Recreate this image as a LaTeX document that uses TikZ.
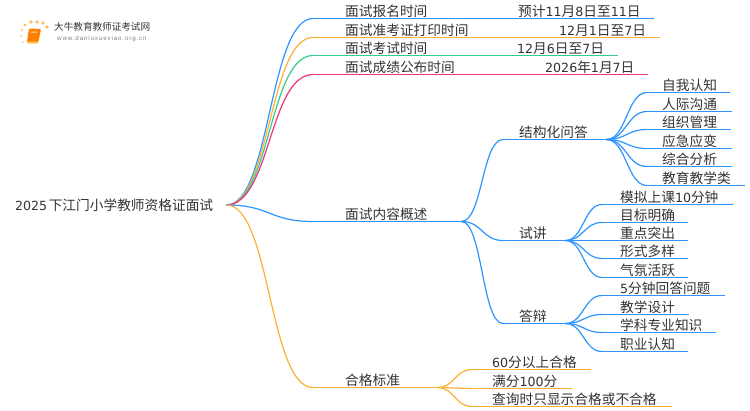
\documentclass[tikz,border=0pt]{standalone}
\usepackage{fontspec}
\setmainfont{Noto Sans CJK SC}
\newfontfamily\dgfont[Scale=0.92]{DejaVu Sans}
\newfontfamily\urlfont[LetterSpace=14]{Liberation Sans}
\newcommand{\dg}[1]{{\dgfont #1}}
\definecolor{bl}{HTML}{2E94FF}
\definecolor{og}{HTML}{FBB034}
\definecolor{gn}{HTML}{35CC8A}
\definecolor{pk}{HTML}{F5307F}
\definecolor{ink}{HTML}{333333}
\tikzset{
	every node/.style={font=\fontsize{13.7pt}{15pt}\selectfont,text=ink},
	item/.style 2 args={anchor=south west,inner sep=0pt,align=left,text height=13pt,text depth=1pt,minimum height=15pt,text width=#1pt,execute at begin node={\hspace*{#2pt}}},
	link/.style={line width=1.2pt,to path={.. controls +(#1,0) and +(-#1,0) .. (\tikztotarget)}},
	rule/.style={line width=1.6pt}
	}
\begin{document}
\begin{tikzpicture}[x=1pt,y=-1pt]
\useasboundingbox (0,0) rectangle (750,410);
% logo
\fill[og,opacity=.8] (25,25) circle (1.6) (31,22) circle (1.9) (37,22) circle (1.9) (43,23) circle (1.9) (47,27) circle (1.9) (22,30) circle (1.2) (21,36) circle (1) (23,42) circle (.8);
\fill[og!75!white,rounded corners=1pt] (26.5,41) -- (39,41) -- (38,43.5) -- (27,43.5) -- cycle;
\fill[orange,rounded corners=1pt] (29,28.5) -- (41,29) -- (38.5,41.5) -- (27,41.5) -- cycle;
\fill[og!50!white] (31,31.5) -- (37.5,31.5) -- (37.3,32.5) -- (30.8,32.5) -- cycle;
\node[font=\fontsize{9.6pt}{12pt}\selectfont,anchor=west,inner sep=0pt] (logoname) at (54,27) {大牛教育教师证考试网};
\node[font=\urlfont\fontsize{6.2pt}{7pt}\selectfont,text=gray,anchor=west,inner sep=0pt] (logourl) at (57,39) {www.daniuxuexiao.org.cn};
% root
\node[anchor=west,inner sep=0pt,text width=211pt,align=left] (root) at (15,205) {\dg{2025}\kern1.5pt 下江门小学教师资格证面试};
% first level
\node[item={192}{32}] (t1) at (313,18.5) {面试报名时间};
\node[item={149}{13}] (v1) at (505,18.5) {预计\dg{11}月\dg{8}日至\dg{11}日};
\node[item={232}{32}] (t2) at (313,37.5) {面试准考证打印时间};
\node[item={115}{14}] (v2) at (545,37.5) {\dg{12}月\dg{1}日至\dg{7}日};
\node[item={192}{32}] (t3) at (313,55.5) {面试考试时间};
\node[item={113}{12}] (v3) at (505,55.5) {\dg{12}月\dg{6}日至\dg{7}日};
\node[item={219}{32}] (t4) at (313,74.5) {面试成绩公布时间};
\node[item={116}{13}] (v4) at (532,74.5) {\dg{2026}年\dg{1}月\dg{7}日};
\node[item={148}{32}] (t5) at (313,221.5) {面试内容概述};
\node[item={124}{32}] (t6) at (313,387.5) {合格标准};
% second level
\node[item={103}{16}] (s1) at (503,139.5) {结构化问答};
\node[item={62}{16}] (s2) at (503,240.5) {试讲};
\node[item={62}{16}] (s3) at (503,323.5) {答辩};
% leaves
\node[item={83}{15}] (a1) at (647,92.5) {自我认知};
\node[item={85}{15}] (a2) at (647,111.5) {人际沟通};
\node[item={84}{15}] (a3) at (647,129.5) {组织管理};
\node[item={85}{15}] (a4) at (647,148.5) {应急应变};
\node[item={85}{15}] (a5) at (647,166.5) {综合分析};
\node[item={98}{15}] (a6) at (647,185.5) {教育教学类};
\node[item={131}{18}] (b1) at (602,204.5) {模拟上课\dg{10}分钟};
\node[item={86}{18}] (b2) at (602,222.5) {目标明确};
\node[item={86}{18}] (b3) at (602,240.5) {重点突出};
\node[item={86}{18}] (b4) at (602,258.5) {形式多样};
\node[item={86}{18}] (b5) at (602,277.5) {气氛活跃};
\node[item={123}{18}] (c1) at (602,295.5) {\dg{5}分钟回答问题};
\node[item={87}{18}] (c2) at (602,314.5) {教学设计};
\node[item={114}{18}] (c3) at (602,332.5) {学科专业知识};
\node[item={86}{18}] (c4) at (602,351.5) {职业认知};
\node[item={119}{20}] (d1) at (472,369.5) {\dg{60}分以上合格};
\node[item={100}{20}] (d2) at (472,388.5) {满分\dg{100}分};
\node[item={200}{20}] (d3) at (472,406.5) {查询时只显示合格或不合格};
% connectors
\draw[link=44,bl] (root.east) to (t1.south west);
\draw[link=44,og] (root.east) to (t2.south west);
\draw[link=44,gn] (root.east) to (t3.south west);
\draw[link=44,pk] (root.east) to (t4.south west);
\draw[link=44,bl] (root.east) to (t5.south west);
\draw[link=44,og] (root.east) to (t6.south west);
\draw[rule,bl] (t1.south west) -- (t1.south east) -- (v1.south east);
\draw[rule,og] (t2.south west) -- (t2.south east) -- (v2.south east);
\draw[rule,gn] (t3.south west) -- (t3.south east) -- (v3.south east);
\draw[rule,pk] (t4.south west) -- (t4.south east) -- (v4.south east);
\draw[rule,bl] (t5.south west) -- (t5.south east);
\draw[rule,og] (t6.south west) -- (t6.south east);
\draw[link=21,bl] (t5.south east) to (s1.south west);
\draw[link=21,bl] (t5.south east) to (s2.south west);
\draw[link=21,bl] (t5.south east) to (s3.south west);
\draw[rule,bl] (s1.south west) -- (s1.south east);
\draw[rule,bl] (s2.south west) -- (s2.south east);
\draw[rule,bl] (s3.south west) -- (s3.south east);
\draw[link=20,bl] (s1.south east) to (a1.south west);
\draw[link=20,bl] (s1.south east) to (a2.south west);
\draw[link=20,bl] (s1.south east) to (a3.south west);
\draw[link=20,bl] (s1.south east) to (a4.south west);
\draw[link=20,bl] (s1.south east) to (a5.south west);
\draw[link=20,bl] (s1.south east) to (a6.south west);
\draw[rule,bl] (a1.south west) -- (a1.south east);
\draw[rule,bl] (a2.south west) -- (a2.south east);
\draw[rule,bl] (a3.south west) -- (a3.south east);
\draw[rule,bl] (a4.south west) -- (a4.south east);
\draw[rule,bl] (a5.south west) -- (a5.south east);
\draw[rule,bl] (a6.south west) -- (a6.south east);
\draw[link=18,bl] (s2.south east) to (b1.south west);
\draw[link=18,bl] (s2.south east) to (b2.south west);
\draw[link=18,bl] (s2.south east) to (b3.south west);
\draw[link=18,bl] (s2.south east) to (b4.south west);
\draw[link=18,bl] (s2.south east) to (b5.south west);
\draw[rule,bl] (b1.south west) -- (b1.south east);
\draw[rule,bl] (b2.south west) -- (b2.south east);
\draw[rule,bl] (b3.south west) -- (b3.south east);
\draw[rule,bl] (b4.south west) -- (b4.south east);
\draw[rule,bl] (b5.south west) -- (b5.south east);
\draw[link=18,bl] (s3.south east) to (c1.south west);
\draw[link=18,bl] (s3.south east) to (c2.south west);
\draw[link=18,bl] (s3.south east) to (c3.south west);
\draw[link=18,bl] (s3.south east) to (c4.south west);
\draw[rule,bl] (c1.south west) -- (c1.south east);
\draw[rule,bl] (c2.south west) -- (c2.south east);
\draw[rule,bl] (c3.south west) -- (c3.south east);
\draw[rule,bl] (c4.south west) -- (c4.south east);
\draw[link=17,og] (t6.south east) to (d1.south west);
\draw[link=17,og] (t6.south east) to (d2.south west);
\draw[link=17,og] (t6.south east) to (d3.south west);
\draw[rule,og] (d1.south west) -- (d1.south east);
\draw[rule,og] (d2.south west) -- (d2.south east);
\draw[rule,og] (d3.south west) -- (d3.south east);
\end{tikzpicture}
\end{document}
